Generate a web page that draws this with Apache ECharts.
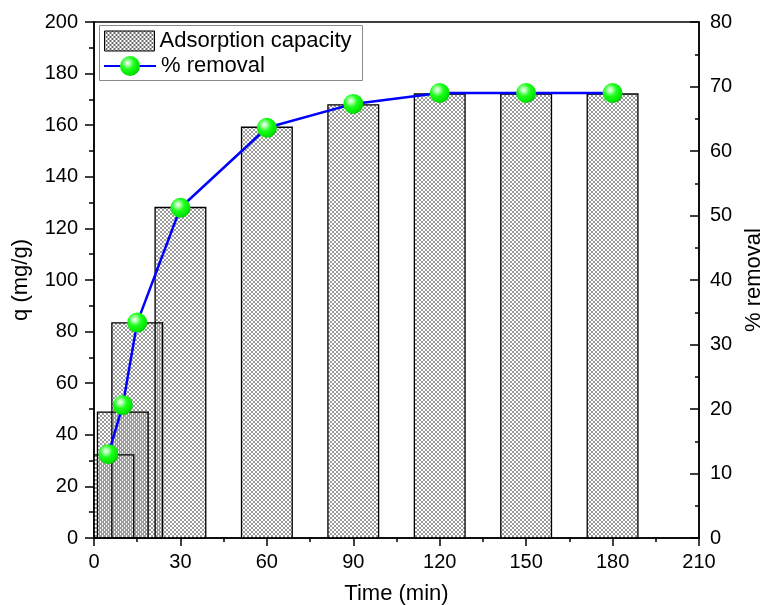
<!DOCTYPE html>
<html>
<head>
<meta charset="utf-8">
<script src="https://cdn.jsdelivr.net/npm/echarts@6/dist/echarts.min.js"></script>
<style>
  html, body { margin: 0; padding: 0; background: #fff; }
  #chart { width: 773px; height: 605px; }
</style>
</head>
<body>
<div id="chart"></div>
<script>
// Contact time (min)
const times = [5, 10, 15, 30, 60, 90, 120, 150, 180];
// Adsorption capacity q (mg/g)
const capacity = [32.2, 48.8, 83.4, 128.1, 159.2, 167.9, 172.1, 172.1, 172.1];
// Removal efficiency (%)
const removal = [13.0, 20.6, 33.4, 51.2, 63.6, 67.3, 69.0, 69.0, 69.0];

const FONT = '"Liberation Sans", Arial, sans-serif';
const BAR_SPAN = 17.6; // bar width in minutes

// Cross-hatch tile used as the bar fill (transparent gaps so overlapping bars darken)
function makeHatch(color) {
  const c = document.createElement('canvas');
  c.width = 4; c.height = 4;
  const g = c.getContext('2d');
  g.fillStyle = color;
  for (let i = 0; i < 4; i++) {
    g.fillRect(i, i, 1, 1);
    g.fillRect(3 - i, i, 1, 1);
  }
  return c;
}
const hatchTile = makeHatch('#9a9a9a');
const legendTile = makeHatch('#6a6a6a');

function hatchFill(tile, offset) {
  return { image: tile, repeat: 'repeat', x: offset, y: 0 };
}

// Glossy green ball marker
const ball = {
  type: 'radial', x: 0.38, y: 0.35, r: 0.7,
  colorStops: [
    { offset: 0, color: '#ffffff' },
    { offset: 0.18, color: '#a8ffa8' },
    { offset: 0.45, color: '#1cff1c' },
    { offset: 0.85, color: '#00e600' },
    { offset: 1, color: '#00b800' }
  ]
};

const barData = times.map((t, i) => [t, capacity[i]]);
const lineData = times.map((t, i) => [t, removal[i]]);

// Bars drawn through the axes' scales, clipped to the plot area;
// outlines sit above every hatch fill so overlapping edges stay visible
function renderBar(params, api) {
  const t = api.value(0);
  const q = api.value(1);
  const base = api.coord([t, 0]);
  const top = api.coord([t, q]);
  const w = api.size([BAR_SPAN, 0])[0];
  const cs = params.coordSys;
  const rect = echarts.graphic.clipRectByRect(
    { x: base[0] - w / 2, y: top[1], width: w, height: base[1] - top[1] },
    { x: cs.x, y: cs.y, width: cs.width, height: cs.height }
  );
  if (!rect) return null;
  return {
    type: 'group',
    children: [
      {
        type: 'rect',
        shape: rect,
        z2: 0,
        style: { fill: hatchFill(hatchTile, params.dataIndex % 2), stroke: null }
      },
      {
        type: 'rect',
        shape: rect,
        z2: 10,
        style: { fill: null, stroke: '#000', lineWidth: 1.3 }
      }
    ]
  };
}

const chart = echarts.init(document.getElementById('chart'), null, { renderer: 'canvas' });

const legendText = { fontSize: 22, color: '#000', fontFamily: FONT };

chart.setOption({
  animation: false,
  backgroundColor: '#fff',
  textStyle: { fontFamily: FONT },
  grid: {
    left: 94, right: 74, top: 22, bottom: 67,
    outerBoundsMode: 'none',
    containLabel: false,
    show: true, borderColor: '#000', borderWidth: 1.5,
    backgroundColor: 'transparent'
  },
  graphic: [{
    type: 'rect',
    left: 99, top: 25,
    shape: { width: 263, height: 55 },
    style: { fill: '#fff', stroke: '#8a8a8a', lineWidth: 1 },
    z: 10
  }],
  legend: [
    {
      left: 99, top: 25,
      padding: [5, 5, 0, 5],
      itemWidth: 50,
      itemHeight: 20,
      textStyle: legendText,
      z: 11,
      data: [{
        name: 'Adsorption capacity',
        icon: 'rect',
        itemStyle: { color: hatchFill(legendTile, 0), borderColor: '#000', borderWidth: 1 }
      }]
    },
    {
      left: 99, top: 55,
      padding: [0, 5, 0, 4],
      itemWidth: 52,
      itemHeight: 25,
      textStyle: legendText,
      z: 11,
      data: [{ name: '% removal' }]
    }
  ],
  xAxis: {
    type: 'value',
    min: 0, max: 210, interval: 30,
    name: 'Time (min)',
    nameLocation: 'middle',
    nameGap: 45,
    nameTextStyle: { fontSize: 22, color: '#000', fontFamily: FONT },
    axisLine: { show: true, onZero: false, lineStyle: { color: '#000', width: 1.5 } },
    axisTick: { show: true, length: 8, lineStyle: { color: '#000', width: 1.5 } },
    minorTick: { show: true, splitNumber: 2, length: 4, lineStyle: { color: '#000', width: 1.5 } },
    splitLine: { show: false },
    axisLabel: { fontSize: 20, color: '#000', margin: 14, fontFamily: FONT }
  },
  yAxis: [
    {
      type: 'value',
      min: 0, max: 200, interval: 20,
      name: 'q (mg/g)',
      nameLocation: 'middle',
      nameRotate: 90,
      nameGap: 62,
      nameTextStyle: { fontSize: 22, color: '#000', fontFamily: FONT },
      axisLine: { show: true, lineStyle: { color: '#000', width: 1.5 } },
      axisTick: { show: true, length: 9, lineStyle: { color: '#000', width: 1.5 } },
      minorTick: { show: true, splitNumber: 2, length: 5, lineStyle: { color: '#000', width: 1.5 } },
      splitLine: { show: false },
      axisLabel: { fontSize: 20, color: '#000', margin: 16, fontFamily: FONT }
    },
    {
      type: 'value',
      position: 'right',
      min: 0, max: 80, interval: 10,
      name: '% removal',
      nameLocation: 'middle',
      nameRotate: 90,
      nameGap: 42,
      nameTextStyle: { fontSize: 22, color: '#000', fontFamily: FONT },
      axisLine: { show: true, lineStyle: { color: '#000', width: 1.5 } },
      axisTick: { show: true, inside: true, length: 9, lineStyle: { color: '#000', width: 1.5 } },
      minorTick: { show: true, splitNumber: 2, length: 4, lineStyle: { color: '#000', width: 1.5 } },
      splitLine: { show: false },
      axisLabel: { fontSize: 20, color: '#000', margin: 11, fontFamily: FONT }
    }
  ],
  series: [
    {
      name: 'Adsorption capacity',
      type: 'custom',
      renderItem: renderBar,
      encode: { x: 0, y: 1 },
      itemStyle: { color: hatchFill(legendTile, 0), borderColor: '#000', borderWidth: 1 },
      data: barData,
      z: 2
    },
    {
      name: '% removal',
      type: 'line',
      yAxisIndex: 1,
      symbol: 'circle',
      symbolSize: 20,
      smooth: false,
      itemStyle: { color: ball, borderWidth: 0 },
      lineStyle: { color: '#0000ff', width: 2.5 },
      data: lineData,
      z: 5
    }
  ]
});
</script>
</body>
</html>
